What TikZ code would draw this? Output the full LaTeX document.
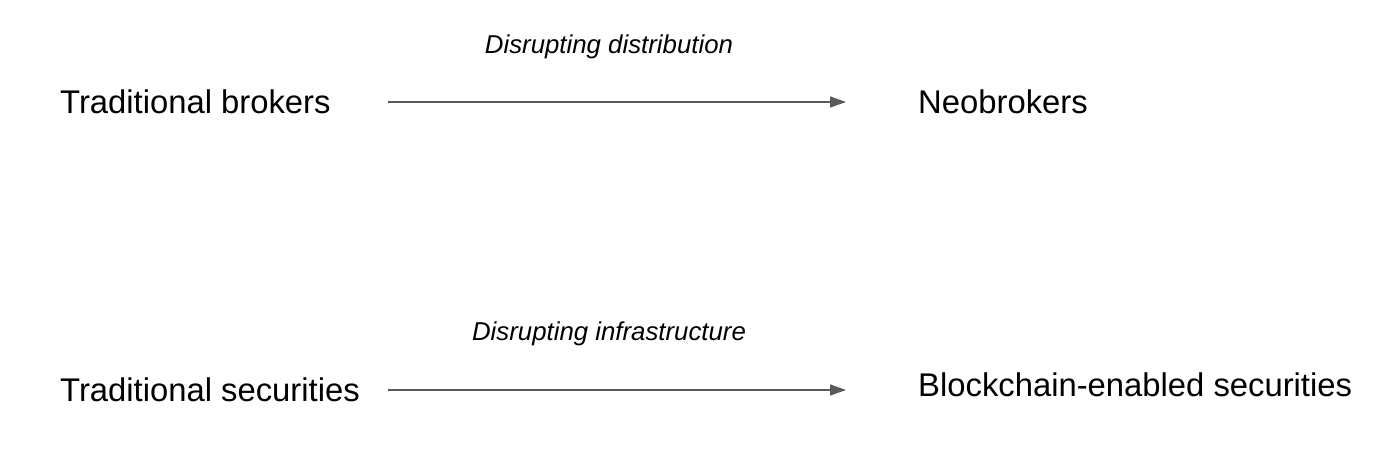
\documentclass[tikz,border=0pt]{standalone}
\usepackage{fontspec}
\setmainfont{Liberation Sans}
\usetikzlibrary{arrows.meta}
\definecolor{arrowgray}{HTML}{595959}
\begin{document}
\begin{tikzpicture}[x=1pt,y=-1pt,
  term/.style={inner sep=0pt, anchor=base west, font=\fontsize{32.8}{38}\selectfont},
  lbl/.style={inner sep=0pt, anchor=base, font=\fontsize{25.8}{30}\selectfont\itshape},
  conn/.style={draw=arrowgray, line width=1.5pt, -{Triangle[length=16pt,width=11pt]}}]
\useasboundingbox[fill=white] (0,0) rectangle (1400,456);
\node[term] (tb) at (60,113) {Traditional brokers};
\node[term] (nb) at (918,113) {Neobrokers};
\node[term] (ts) at (60,401) {Traditional securities};
\node[term] (bs) at (918,396) {Blockchain-enabled securities};
\coordinate (a1s) at (388,102);
\coordinate (a1e) at (846,102);
\coordinate (a2s) at (388,390);
\coordinate (a2e) at (846,390);
\draw[conn] (a1s) -- (a1e);
\draw[conn] (a2s) -- (a2e);
\node[lbl] (l1) at (609,53) {Disrupting distribution};
\node[lbl] (l2) at (609,340) {Disrupting infrastructure};
\end{tikzpicture}
\end{document}
